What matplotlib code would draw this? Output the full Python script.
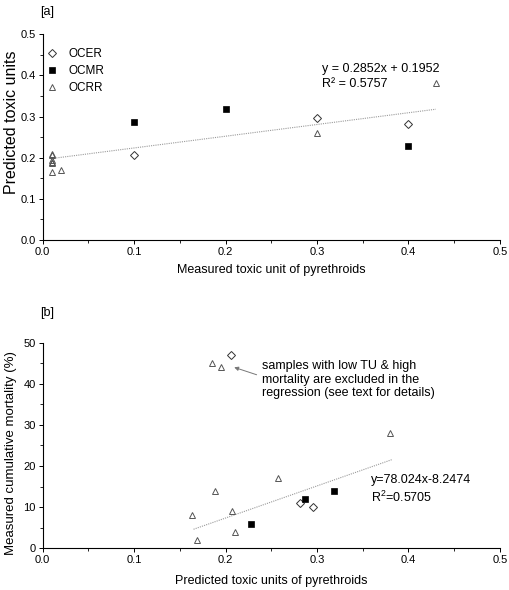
import numpy as np
import matplotlib.pyplot as plt

plt.rcParams['font.family'] = ['Liberation Sans', 'DejaVu Sans']
plt.rcParams['mathtext.fontset'] = 'custom'
plt.rcParams['mathtext.rm'] = 'Liberation Sans'

# [a] measured vs predicted toxic units
a_ocer_x = [0.10, 0.30, 0.40]
a_ocer_y = [0.206, 0.297, 0.283]
a_ocmr_x = [0.10, 0.20, 0.40]
a_ocmr_y = [0.287, 0.319, 0.228]
a_ocrr_x = [0.01, 0.01, 0.01, 0.01, 0.01, 0.01, 0.02, 0.30, 0.43]
a_ocrr_y = [0.210, 0.207, 0.194, 0.189, 0.186, 0.165, 0.170, 0.260, 0.382]
a_slope, a_icpt = 0.2852, 0.1952

# [b] predicted toxic units vs mortality
b_ocer_x = [0.206, 0.281, 0.296]
b_ocer_y = [47, 11, 10]
b_ocmr_x = [0.228, 0.287, 0.319]
b_ocmr_y = [6, 12, 14]
b_ocrr_x = [0.185, 0.195, 0.163, 0.169, 0.189, 0.207, 0.210, 0.257, 0.380]
b_ocrr_y = [45, 44, 8, 2, 14, 9, 4, 17, 28]
b_slope, b_icpt = 78.024, -8.2474

fig = plt.figure(figsize=(5.1, 5.9), dpi=100)
ax1 = fig.add_axes([0.0837, 0.5932, 0.8963, 0.3487])
ax2 = fig.add_axes([0.0837, 0.0707, 0.8963, 0.3485])


def style(ax):
    for s in ['top', 'right']:
        ax.spines[s].set_visible(False)
    for s in ['left', 'bottom']:
        ax.spines[s].set_linewidth(0.8)
    ax.tick_params(which='major', direction='out', length=3, width=0.7, pad=2, labelsize=8)
    ax.tick_params(which='minor', direction='out', length=2, width=0.6)
    ax.set_xlim(0, 0.5)
    ax.set_xticks(np.arange(0, 0.51, 0.1))
    ax.set_xticks(np.arange(0.05, 0.5, 0.1), minor=True)
    ax.set_xticklabels(['0.0', '0.1', '0.2', '0.3', '0.4', '0.5'])


def scatter(ax, ex, ey, mx, my, rx, ry):
    ax.plot(ex, ey, 'D', ms=4.2, mfc='none', mec='#333333', mew=0.7, label='OCER', clip_on=False)
    ax.plot(mx, my, 's', ms=3.8, mfc='black', mec='black', mew=0.5, label='OCMR', clip_on=False)
    ax.plot(rx, ry, '^', ms=5, mfc='none', mec='#555555', mew=0.7, label='OCRR', clip_on=False)


# panel a
style(ax1)
ax1.set_ylim(0, 0.5)
ax1.set_yticks(np.arange(0, 0.51, 0.1))
ax1.set_yticks(np.arange(0.05, 0.5, 0.1), minor=True)
ax1.set_yticklabels(['0.0', '0.1', '0.2', '0.3', '0.4', '0.5'])
xa = np.array([min(a_ocrr_x), max(a_ocrr_x)])
ax1.plot(xa, a_slope * xa + a_icpt, color='#9a9a9a', lw=0.8, ls=(0, (1, 1)))
scatter(ax1, a_ocer_x, a_ocer_y, a_ocmr_x, a_ocmr_y, a_ocrr_x, a_ocrr_y)
ax1.legend(loc='upper left', bbox_to_anchor=(-0.011, 0.975), frameon=False, fontsize=8.5,
           handlelength=1.0, handletextpad=0.9, labelspacing=0.45, borderaxespad=0.3)
ax1.text(0.305, 0.415, 'y = 0.2852x + 0.1952', fontsize=9, va='center', ha='left')
ax1.text(0.305, 0.378, 'R² = 0.5757', fontsize=9, va='center', ha='left')
ax1.text(0.5, -0.146, 'Measured toxic unit of pyrethroids', transform=ax1.transAxes,
         ha='center', va='center', fontsize=9)
ax1.text(-0.069, 0.571, 'Predicted toxic units', transform=ax1.transAxes, rotation=90,
         ha='center', va='center', fontsize=11.5)
fig.text(40 / 510, 1 - 12 / 590, '[a]', fontsize=9, ha='left', va='center')

# panel b
style(ax2)
ax2.set_ylim(0, 50)
ax2.set_yticks(np.arange(0, 51, 10))
ax2.set_yticks(np.arange(5, 50, 10), minor=True)
xb = np.array([0.165, 0.382])
ax2.plot(xb, b_slope * xb + b_icpt, color='#9a9a9a', lw=0.8, ls=(0, (1, 1)))
scatter(ax2, b_ocer_x, b_ocer_y, b_ocmr_x, b_ocmr_y, b_ocrr_x, b_ocrr_y)
ax2.annotate('', xy=(0.2095, 44.0), xytext=(0.234, 42.2),
             arrowprops=dict(arrowstyle='-|>', color='#777777', lw=0.7, mutation_scale=6,
                             shrinkA=0, shrinkB=0))
ax2.text(0.2395, 45.7, 'samples with low TU & high\nmortality are excluded in the\n'
         'regression (see text for details)', fontsize=9, ha='left', va='top', linespacing=1.15)
ax2.text(0.3588, 16.6, 'y=78.024x-8.2474', fontsize=9, va='center', ha='left')
ax2.text(0.3588, 12.4, r'R$^2$=0.5705', fontsize=9, va='center', ha='left')
ax2.text(0.5, -0.157, 'Predicted toxic units of pyrethroids', transform=ax2.transAxes,
         ha='center', va='center', fontsize=9)
ax2.text(-0.07, 0.461, 'Measured cumulative mortality (%)', transform=ax2.transAxes,
         rotation=90, ha='center', va='center', fontsize=9.5)
fig.text(40 / 510, 1 - 312.7 / 590, '[b]', fontsize=9, ha='left', va='center')

fig.savefig('out.png', dpi=100)
